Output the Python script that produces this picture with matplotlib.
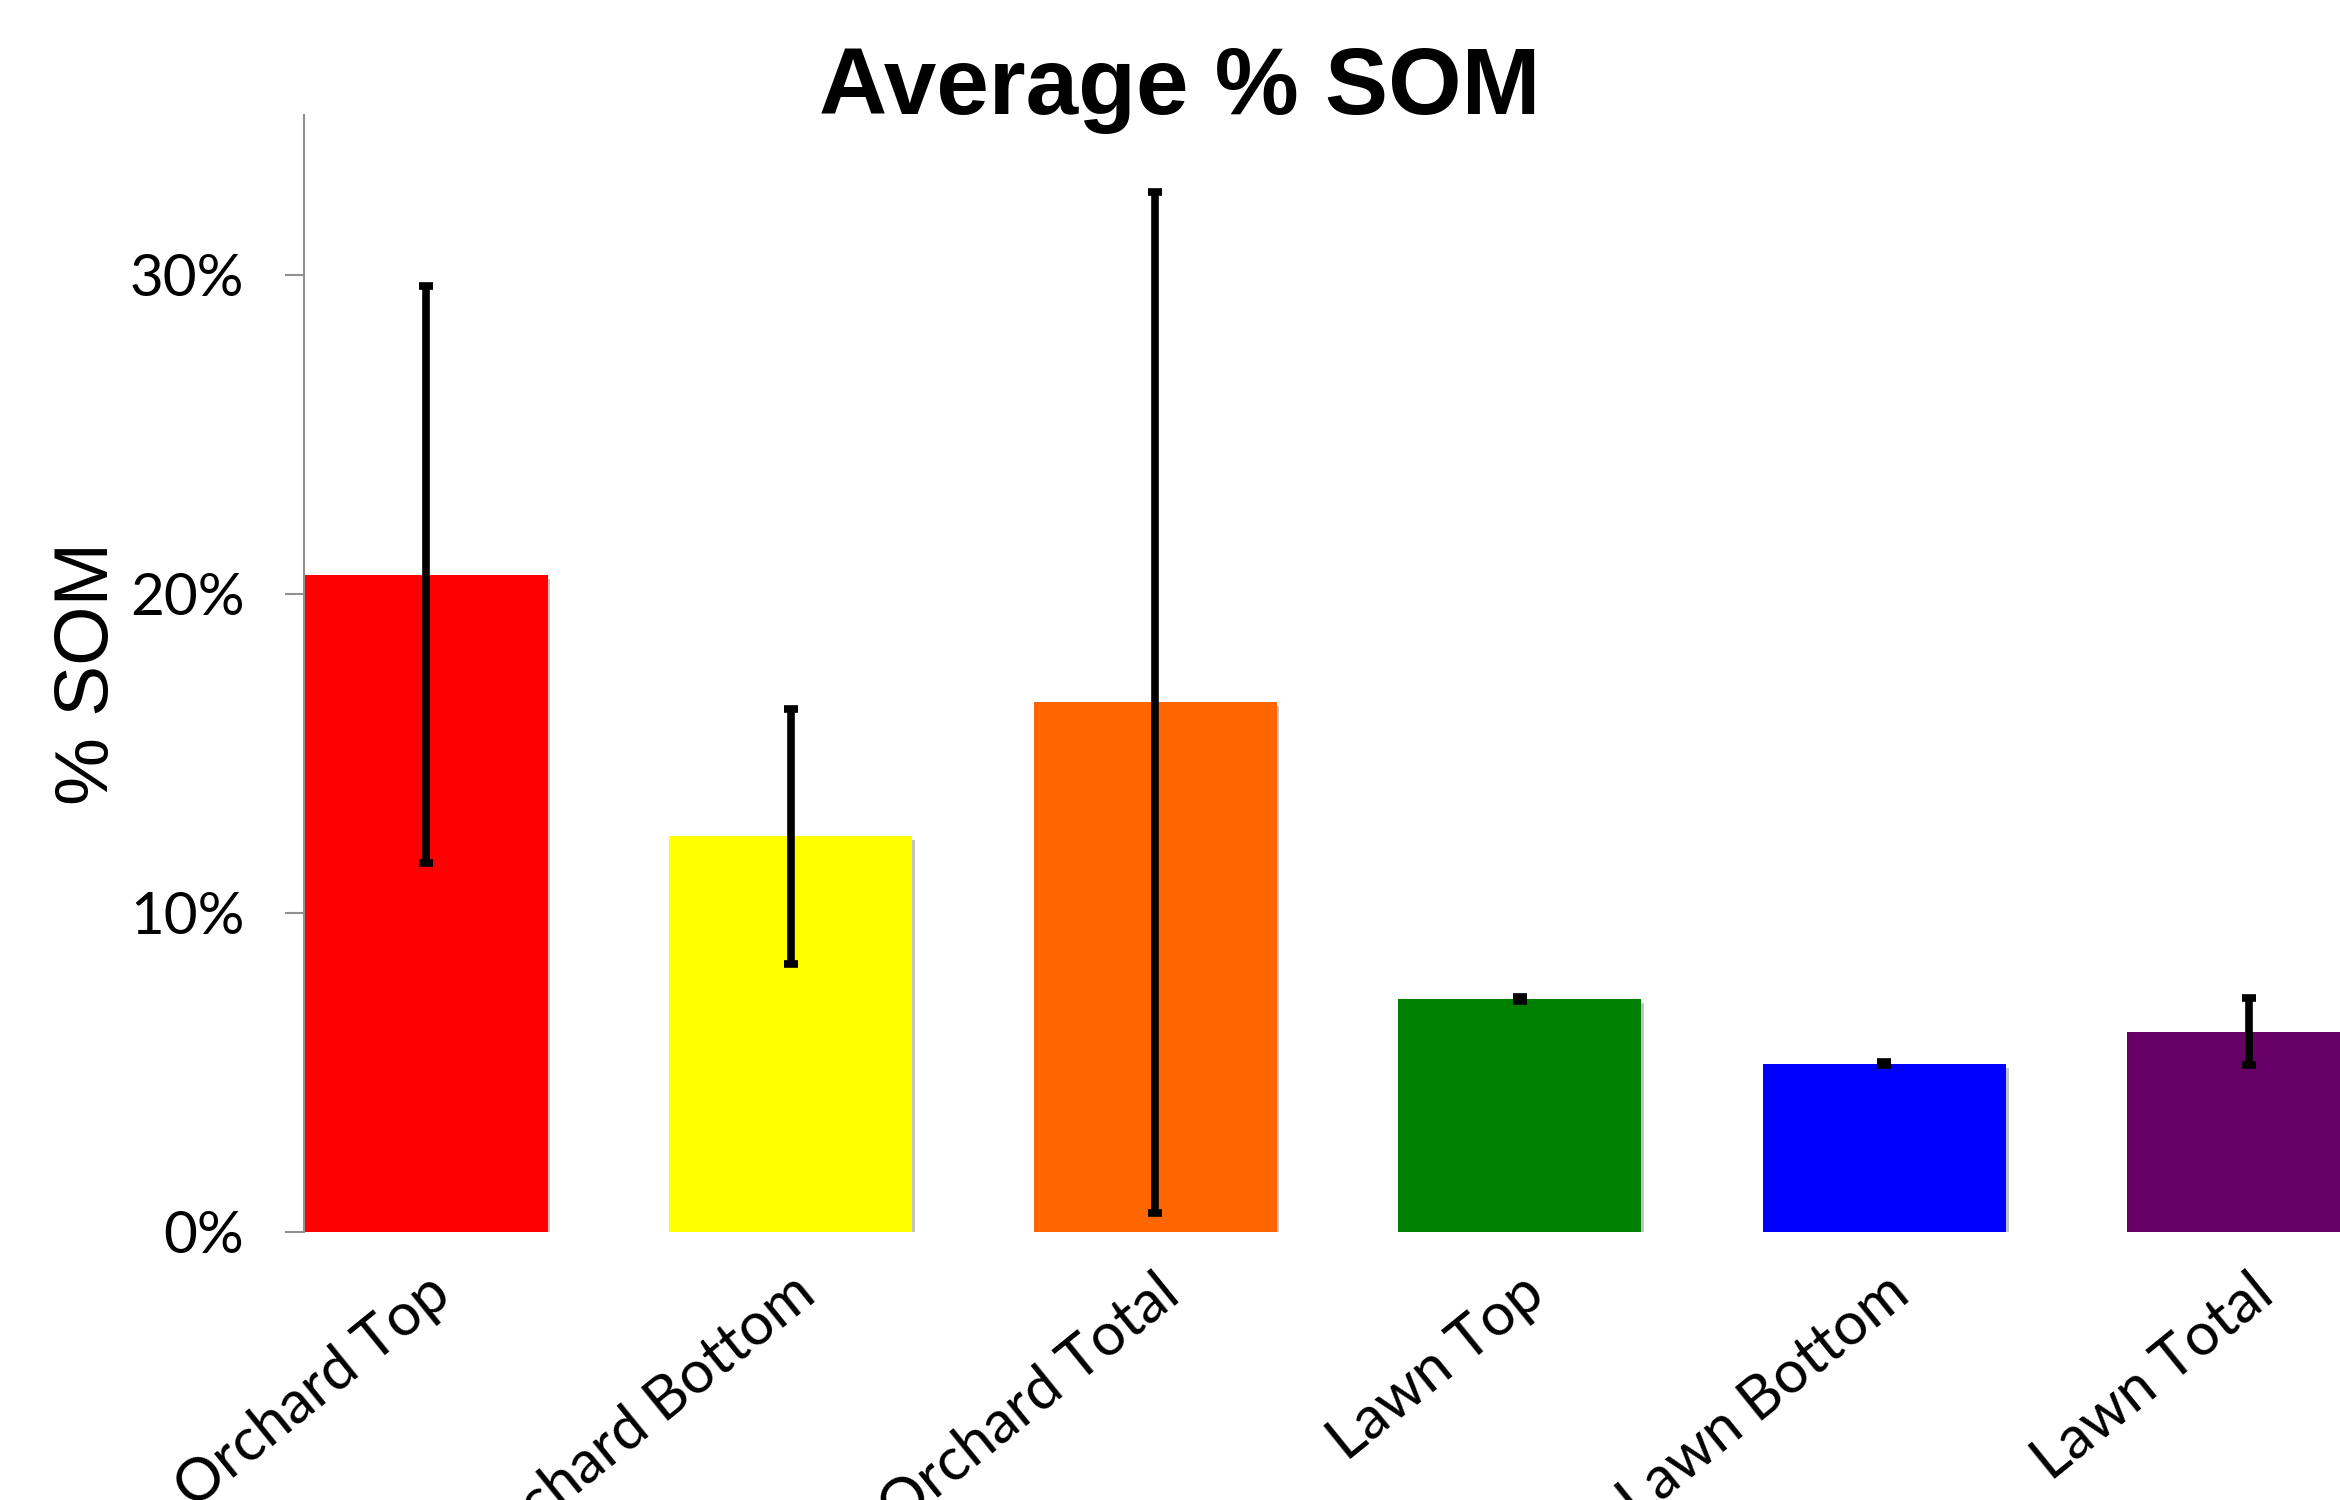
import matplotlib
matplotlib.use("Agg")
import matplotlib.pyplot as plt
import matplotlib.patheffects as pe
from matplotlib.ticker import FuncFormatter

categories = ["Orchard Top", "Orchard Bottom", "Orchard Total",
              "Lawn Top", "Lawn Bottom", "Lawn Total"]
som_mean = [20.6, 12.4, 16.6, 7.3, 5.27, 6.28]
som_err = [9.05, 4.0, 16.0, 0.05, 0.05, 1.05]
bar_colors = ["#FF0000", "#FFFF00", "#FF6600", "#008000", "#0000FF", "#660066"]

fig = plt.figure(figsize=(23.4, 15), dpi=100)
ax = fig.add_axes([0.13, 0.1787, 0.87, 0.7446])

x = range(len(categories))
bars = ax.bar(x, som_mean, width=0.667, color=bar_colors, zorder=2)
for b in bars:
    b.set_path_effects([pe.SimplePatchShadow(offset=(2, -3), shadow_rgbFace="#888888", alpha=0.5),
                        pe.Normal()])
ax.errorbar(x, som_mean, yerr=som_err, fmt="none", ecolor="black",
            elinewidth=5.5, capsize=5, capthick=5.5, zorder=3)

ax.set_xlim(-0.334, 5.25)
ax.set_ylim(0, 35)
ax.set_yticks([0, 10, 20, 30])
ax.yaxis.set_major_formatter(FuncFormatter(lambda v, p: "%d%%" % v))

for s in ["top", "right", "bottom"]:
    ax.spines[s].set_visible(False)
ax.spines["left"].set_color("#909090")
ax.spines["left"].set_linewidth(1.5)
ax.tick_params(axis="y", length=14, width=1.5, color="#909090", pad=29,
               labelsize=42)
ax.tick_params(axis="x", length=0, pad=24)
for lab in ax.get_yticklabels():
    lab.set_fontfamily("Lato")

ax.set_xticks(list(x))
ax.set_xticklabels(categories, rotation=39, ha="right", va="top",
                   rotation_mode="anchor", fontsize=43, fontfamily="Lato")

ax.set_ylabel("% SOM", fontsize=55, fontfamily="Liberation Sans", labelpad=4)
fig.suptitle("Average % SOM", x=0.504, y=0.94, va="center",
             fontsize=68, fontweight="bold", fontfamily="Liberation Sans")

fig.savefig("out.png", dpi=100)
